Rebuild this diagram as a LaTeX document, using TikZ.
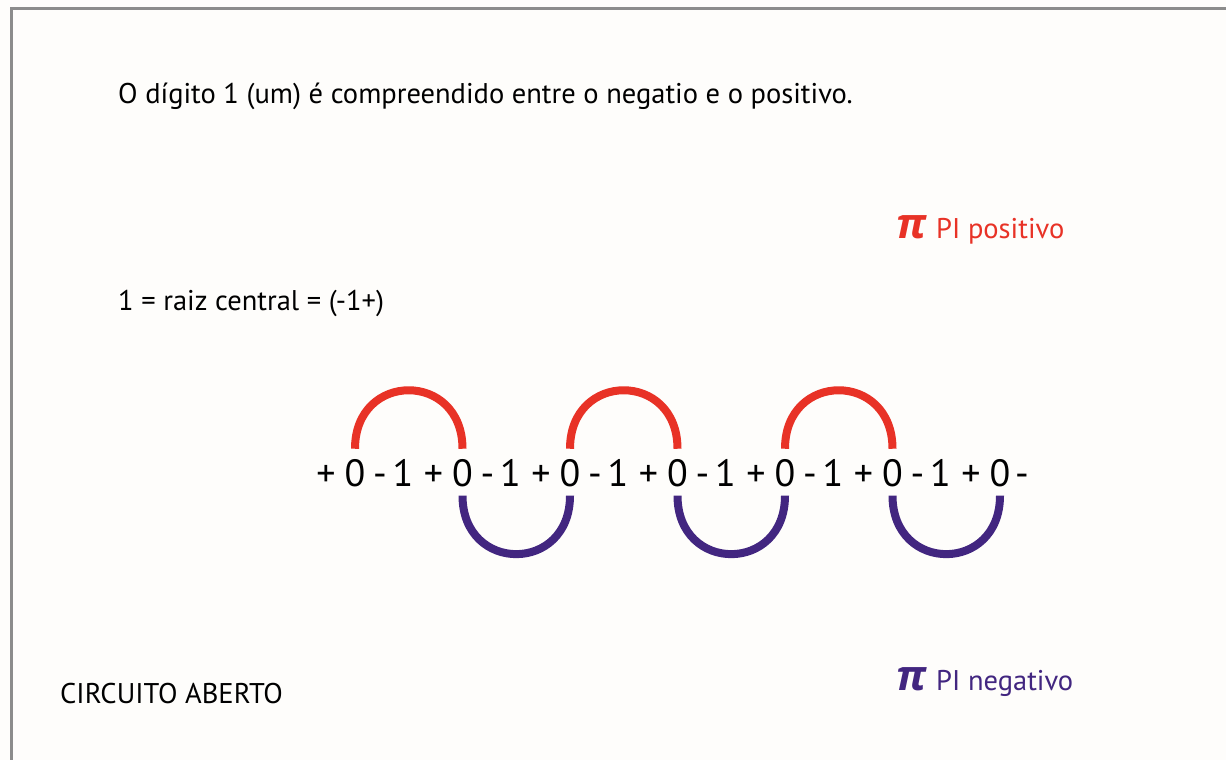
\documentclass[tikz,border=0pt]{standalone}
\usepackage{fontspec}
\setmainfont{PT Sans}
\newfontfamily\grfont{Open Sans}
\usepackage{tikz}

\definecolor{pired}{RGB}{232,50,38}
\definecolor{pipurple}{RGB}{66,38,128}
\definecolor{framegray}{RGB}{140,140,140}
\definecolor{paper}{RGB}{254,253,251}

\begin{document}
\begin{tikzpicture}[x=1pt,y=-1pt]
\tikzstyle{every node}=[font=\fontsize{28.5pt}{34pt}\selectfont, inner sep=0pt]
\tikzstyle{sym}=[anchor=base, font=\fontsize{38pt}{45pt}\selectfont]
\tikzstyle{posarc}=[draw=pired, line width=8pt, looseness=1.86]
\tikzstyle{negarc}=[draw=pipurple, line width=8pt, looseness=1.86]
\fill [paper] (0,0) rectangle (1226,760);
\useasboundingbox (0,0) rectangle (1226,760);
\draw [framegray, line width=3pt] (11,760) -- (11,8.5) -- (1226,8.5);
\node [anchor=base west] (intro) at (118,103) {O dígito 1 (um) é compreendido entre o negatio e o positivo.};
\node [anchor=base west] (raiz) at (118,310) {1 = raiz central = (-1+)};
\node [anchor=base west] (circ) at (60,703) {CIRCUITO ABERTO};
\node [anchor=base west, text=pired] (pos) at (896,238) {{\grfont\bfseries\itshape\fontsize{42pt}{42pt}\selectfont π}\hspace{10pt}PI positivo};
\node [anchor=base west, text=pipurple] (neg) at (896,690) {{\grfont\bfseries\itshape\fontsize{42pt}{42pt}\selectfont π}\hspace{10pt}PI negativo};
% sequencia
\node [sym] (p1) at (326,486) {+};
\node [sym] (z1) at (355,486) {0};
\node [sym] (m1) at (380,486) {-};
\node [sym] (o1) at (403,486) {1};
\node [sym] (p2) at (433.5,486) {+};
\node [sym] (z2) at (462.5,486) {0};
\node [sym] (m2) at (487.5,486) {-};
\node [sym] (o2) at (510.5,486) {1};
\node [sym] (p3) at (541,486) {+};
\node [sym] (z3) at (570,486) {0};
\node [sym] (m3) at (595,486) {-};
\node [sym] (o3) at (618,486) {1};
\node [sym] (p4) at (648.5,486) {+};
\node [sym] (z4) at (677.5,486) {0};
\node [sym] (m4) at (702.5,486) {-};
\node [sym] (o4) at (725.5,486) {1};
\node [sym] (p5) at (756,486) {+};
\node [sym] (z5) at (785,486) {0};
\node [sym] (m5) at (810,486) {-};
\node [sym] (o5) at (833,486) {1};
\node [sym] (p6) at (863.5,486) {+};
\node [sym] (z6) at (892.5,486) {0};
\node [sym] (m6) at (917.5,486) {-};
\node [sym] (o6) at (940.5,486) {1};
\node [sym] (p7) at (971,486) {+};
\node [sym] (z7) at (1000,486) {0};
\node [sym] (m7) at (1022,486) {-};
% arcos
\draw [posarc] ([yshift=10pt]z1.north) to [out=90, in=90] ([yshift=10pt]z2.north);
\draw [posarc] ([yshift=10pt]z3.north) to [out=90, in=90] ([yshift=10pt]z4.north);
\draw [posarc] ([yshift=10pt]z5.north) to [out=90, in=90] ([yshift=10pt]z6.north);
\draw [negarc] ([yshift=-9pt]z2.south) to [out=-90, in=-90] ([yshift=-9pt]z3.south);
\draw [negarc] ([yshift=-9pt]z4.south) to [out=-90, in=-90] ([yshift=-9pt]z5.south);
\draw [negarc] ([yshift=-9pt]z6.south) to [out=-90, in=-90] ([yshift=-9pt]z7.south);
\end{tikzpicture}
\end{document}
